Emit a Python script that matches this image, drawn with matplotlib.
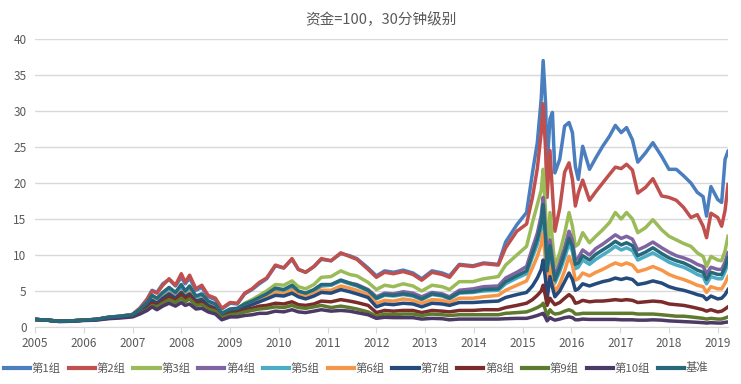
# plot
import matplotlib
matplotlib.use("Agg")
from matplotlib import pyplot as plt

plt.rcParams['font.family'] = ['Noto Sans CJK SC', 'DejaVu Sans']

# time axis (decimal years)
dates = [2005.00, 2005.25, 2005.50, 2005.75, 2006.00, 2006.25, 2006.50, 2006.75, 2007.00, 2007.15,
         2007.30, 2007.40, 2007.50, 2007.62, 2007.75, 2007.88, 2008.00, 2008.08, 2008.17, 2008.30,
         2008.42, 2008.55, 2008.70, 2008.83, 2009.00, 2009.15, 2009.30, 2009.45, 2009.60, 2009.75,
         2009.93, 2010.10, 2010.27, 2010.40, 2010.55, 2010.72, 2010.87, 2011.07, 2011.27, 2011.45,
         2011.60, 2011.83, 2012.00, 2012.17, 2012.35, 2012.55, 2012.75, 2012.93, 2013.14, 2013.35,
         2013.50, 2013.70, 2013.98, 2014.20, 2014.50, 2014.65, 2014.88, 2015.08, 2015.20, 2015.30,
         2015.38, 2015.42, 2015.47, 2015.50, 2015.56, 2015.61, 2015.66, 2015.76, 2015.86, 2015.95,
         2016.02, 2016.08, 2016.14, 2016.23, 2016.37, 2016.50, 2016.64, 2016.78, 2016.90, 2017.02,
         2017.13, 2017.25, 2017.36, 2017.52, 2017.67, 2017.85, 2018.00, 2018.15, 2018.30, 2018.45,
         2018.58, 2018.70, 2018.77, 2018.86, 2019.00, 2019.08, 2019.15, 2019.21]

g1 = [1.05, 0.95, 0.8, 0.85, 0.95, 1.05, 1.35, 1.5, 1.75, 2.6,
      3.9, 5.1, 4.8, 6.0, 6.6, 5.7, 6.9, 6.0, 6.8, 5.1,
      5.5, 4.2, 3.8, 2.5, 3.3, 3.2, 4.6, 5.2, 6.0, 6.7,
      8.5, 8.2, 9.4, 8.0, 7.6, 8.4, 9.4, 9.2, 10.2, 9.9,
      9.5, 8.2, 7.1, 7.8, 7.6, 7.9, 7.5, 6.7, 7.8, 7.5,
      7.1, 8.7, 8.5, 8.9, 8.7, 11.8, 14.2, 15.9, 21.4, 25.6,
      31.7, 37.0, 31.0, 22.3, 28.9, 29.8, 21.4, 23.3, 27.9, 28.4,
      27.0, 22.3, 20.5, 25.1, 21.9, 23.5, 25.1, 26.5, 28.0, 27.0,
      27.7, 26.0, 22.9, 24.2, 25.6, 23.7, 21.9, 21.9, 21.0, 20.0,
      18.7, 18.1, 15.4, 19.5, 17.7, 17.3, 23.3, 24.4]
g2 = [1.05, 0.95, 0.8, 0.85, 0.95, 1.05, 1.35, 1.5, 1.75, 2.6,
      3.8, 5.0, 4.7, 5.8, 6.7, 5.8, 7.4, 6.2, 7.2, 5.3,
      5.8, 4.4, 4.0, 2.6, 3.4, 3.3, 4.7, 5.3, 6.2, 6.8,
      8.6, 8.2, 9.5, 8.0, 7.6, 8.4, 9.5, 9.2, 10.3, 9.8,
      9.4, 8.0, 6.9, 7.6, 7.4, 7.7, 7.3, 6.5, 7.6, 7.3,
      6.9, 8.6, 8.4, 8.8, 8.6, 11.0, 13.3, 14.3, 18.0, 22.0,
      27.0, 31.0, 24.5, 18.0, 24.5, 18.7, 13.3, 16.5, 21.5, 22.8,
      20.5, 16.8, 18.6, 20.4, 17.6, 18.8, 20.0, 21.2, 22.2, 22.0,
      22.6, 21.8, 18.6, 19.4, 20.6, 18.2, 18.0, 17.6, 16.6, 15.2,
      15.6, 14.0, 12.4, 15.8, 15.2, 14.0, 16.2, 19.8]
g3 = [1.05, 0.95, 0.8, 0.85, 0.95, 1.05, 1.3, 1.45, 1.65, 2.3,
      3.2, 4.0, 3.6, 4.3, 4.9, 4.3, 5.1, 4.5, 5.0, 3.9,
      4.1, 3.3, 2.9, 1.8, 2.4, 2.5, 3.3, 3.8, 4.4, 5.0,
      5.9, 5.8, 6.4, 5.6, 5.3, 5.9, 6.9, 7.0, 7.8, 7.3,
      7.1, 6.2, 5.2, 5.8, 5.6, 6.0, 5.7, 5.0, 5.8, 5.6,
      5.2, 6.3, 6.3, 6.7, 7.0, 8.6, 10.0, 11.2, 14.5, 17.0,
      19.0, 21.9, 15.9, 9.5, 15.9, 12.0, 8.4, 10.3, 13.0, 15.9,
      14.0, 11.2, 11.5, 13.1, 11.7, 12.6, 13.5, 14.5, 15.9, 15.0,
      15.9, 15.0, 13.1, 13.8, 14.9, 13.5, 12.6, 12.1, 11.6, 11.2,
      10.3, 9.8, 8.4, 9.8, 9.3, 9.2, 10.6, 12.6]
g4 = [1.05, 0.95, 0.8, 0.85, 0.95, 1.05, 1.3, 1.45, 1.65, 2.3,
      3.1, 3.9, 3.5, 4.2, 4.8, 4.2, 5.0, 4.4, 4.9, 3.8,
      4.0, 3.2, 2.8, 1.7, 2.3, 2.4, 3.0, 3.4, 3.9, 4.3,
      5.0, 4.9, 5.5, 4.8, 4.5, 5.0, 5.7, 5.8, 6.5, 6.1,
      5.9, 5.2, 4.2, 4.7, 4.6, 4.9, 4.7, 4.2, 4.8, 4.6,
      4.2, 5.1, 5.3, 5.6, 5.7, 6.8, 7.6, 8.4, 11.0, 13.0,
      15.5, 18.0, 13.0, 8.4, 12.1, 9.5, 7.0, 8.9, 11.0, 13.3,
      12.0, 9.3, 9.6, 10.7, 10.0, 10.9, 11.5, 12.2, 12.8, 12.3,
      12.6, 12.2, 10.7, 11.2, 11.8, 11.0, 10.4, 9.9, 9.6, 9.2,
      8.7, 8.4, 7.4, 8.3, 8.0, 8.0, 9.0, 10.3]
g5 = [1.05, 0.95, 0.8, 0.85, 0.95, 1.05, 1.3, 1.45, 1.65, 2.3,
      3.2, 4.1, 3.7, 4.4, 5.1, 4.4, 5.4, 4.6, 5.2, 4.0,
      4.2, 3.3, 2.9, 1.8, 2.4, 2.5, 3.1, 3.5, 4.0, 4.4,
      5.2, 5.0, 5.6, 4.9, 4.6, 5.1, 5.8, 5.8, 6.4, 6.0,
      5.7, 5.0, 3.9, 4.4, 4.3, 4.5, 4.3, 3.8, 4.5, 4.3,
      3.9, 4.7, 4.8, 5.0, 5.1, 6.0, 6.8, 7.4, 9.7, 11.5,
      13.6, 15.8, 11.4, 7.3, 10.6, 8.2, 6.1, 7.7, 9.6, 11.6,
      10.5, 8.1, 8.3, 9.3, 8.7, 9.4, 10.0, 10.6, 11.2, 10.7,
      11.0, 10.6, 9.3, 9.8, 10.3, 9.6, 9.0, 8.6, 8.3, 7.8,
      7.3, 7.0, 6.0, 7.0, 6.7, 6.7, 7.7, 8.9]
g6 = [1.05, 0.95, 0.8, 0.85, 0.95, 1.05, 1.3, 1.45, 1.65, 2.2,
      3.0, 3.8, 3.4, 4.1, 4.7, 4.1, 4.9, 4.3, 4.8, 3.7,
      3.9, 3.1, 2.7, 1.7, 2.2, 2.3, 2.9, 3.3, 3.7, 4.1,
      4.8, 4.6, 5.1, 4.5, 4.2, 4.6, 5.1, 5.1, 5.7, 5.4,
      5.1, 4.5, 3.3, 3.7, 3.6, 3.9, 3.7, 3.3, 3.8, 3.7,
      3.4, 4.0, 4.0, 4.2, 4.4, 5.1, 5.8, 6.4, 8.2, 9.8,
      11.5, 13.1, 9.0, 5.3, 8.4, 6.6, 4.8, 6.0, 7.8, 9.8,
      8.6, 6.5, 6.7, 7.5, 7.1, 7.6, 8.0, 8.5, 8.9, 8.6,
      8.9, 8.6, 7.7, 8.0, 8.4, 7.9, 7.3, 6.9, 6.6, 6.2,
      5.8, 5.6, 4.8, 5.6, 5.3, 5.3, 6.1, 7.0]
g7 = [1.05, 0.95, 0.8, 0.85, 0.95, 1.05, 1.3, 1.45, 1.6, 2.2,
      2.9, 3.7, 3.3, 4.0, 4.6, 4.0, 4.8, 4.2, 4.6, 3.6,
      3.8, 3.0, 2.6, 1.6, 2.1, 2.2, 2.7, 3.1, 3.5, 3.9,
      4.4, 4.3, 4.7, 4.2, 3.9, 4.3, 4.8, 4.7, 5.2, 4.9,
      4.6, 4.1, 2.8, 3.2, 3.1, 3.3, 3.2, 2.8, 3.3, 3.2,
      3.0, 3.4, 3.4, 3.5, 3.6, 4.1, 4.5, 4.8, 5.7, 6.8,
      8.0, 9.3, 6.5, 3.8, 7.0, 5.5, 4.2, 5.0, 6.3, 7.5,
      6.6, 5.1, 5.3, 6.0, 5.7, 6.0, 6.3, 6.5, 6.8, 6.6,
      6.8, 6.6, 5.9, 6.1, 6.4, 6.1, 5.6, 5.3, 5.1, 4.8,
      4.5, 4.3, 3.8, 4.3, 3.9, 4.0, 4.5, 5.2]
g8 = [1.05, 0.95, 0.8, 0.85, 0.95, 1.05, 1.25, 1.4, 1.55, 2.0,
      2.6, 3.3, 3.0, 3.6, 4.2, 3.7, 4.5, 3.9, 4.3, 3.3,
      3.4, 2.7, 2.4, 1.4, 1.9, 2.0, 2.4, 2.6, 2.9, 3.0,
      3.3, 3.2, 3.5, 3.1, 3.0, 3.2, 3.6, 3.5, 3.8, 3.6,
      3.4, 3.0, 2.0, 2.3, 2.2, 2.3, 2.3, 2.0, 2.3, 2.2,
      2.1, 2.3, 2.3, 2.4, 2.4, 2.7, 3.0, 3.3, 3.8, 4.4,
      5.0, 5.8, 4.2, 3.0, 4.0, 3.5, 3.1, 3.4, 4.0, 4.5,
      4.1, 3.3, 3.4, 3.7, 3.5, 3.6, 3.6, 3.7, 3.8, 3.7,
      3.8, 3.7, 3.4, 3.5, 3.6, 3.5, 3.2, 3.1, 3.0, 2.8,
      2.6, 2.4, 2.2, 2.4, 2.1, 2.2, 2.5, 2.8]
g9 = [1.05, 0.95, 0.8, 0.85, 0.95, 1.0, 1.2, 1.35, 1.5, 1.9,
      2.4, 3.0, 2.8, 3.3, 3.8, 3.4, 4.0, 3.5, 3.9, 3.0,
      3.1, 2.5, 2.2, 1.3, 1.7, 1.8, 2.1, 2.3, 2.5, 2.6,
      2.8, 2.7, 3.0, 2.7, 2.6, 2.8, 3.0, 2.7, 2.9, 2.7,
      2.5, 2.1, 1.5, 1.8, 1.7, 1.8, 1.8, 1.6, 1.8, 1.7,
      1.6, 1.7, 1.7, 1.7, 1.7, 1.9, 2.0, 2.1, 2.4, 2.7,
      3.0, 3.3, 2.3, 1.5, 2.4, 2.0, 1.8, 1.9, 2.2, 2.4,
      2.2, 1.8, 1.8, 1.9, 1.9, 1.9, 1.9, 1.9, 1.9, 1.9,
      1.9, 1.9, 1.8, 1.8, 1.8, 1.7, 1.6, 1.5, 1.5, 1.4,
      1.3, 1.2, 1.1, 1.2, 1.1, 1.1, 1.25, 1.4]
g10 = [1.05, 0.95, 0.75, 0.8, 0.9, 0.95, 1.15, 1.25, 1.4, 1.8,
       2.3, 2.8, 2.4, 2.9, 3.3, 2.9, 3.4, 3.0, 3.2, 2.5,
       2.6, 2.1, 1.8, 1.0, 1.4, 1.4, 1.6, 1.7, 1.9, 1.9,
       2.2, 2.1, 2.4, 2.1, 2.0, 2.2, 2.4, 2.2, 2.3, 2.2,
       2.0, 1.7, 1.2, 1.35, 1.3, 1.3, 1.3, 1.1, 1.2, 1.15,
       1.0, 1.1, 1.1, 1.1, 1.1, 1.15, 1.2, 1.2, 1.4, 1.6,
       1.8, 1.9, 1.3, 0.85, 1.3, 1.1, 0.95, 1.1, 1.3, 1.4,
       1.3, 1.0, 1.0, 1.1, 1.05, 1.05, 1.05, 1.05, 1.05, 1.0,
       1.0, 1.0, 0.95, 0.95, 1.0, 0.95, 0.85, 0.8, 0.75, 0.7,
       0.65, 0.6, 0.55, 0.6, 0.55, 0.55, 0.65, 0.7]
bench = [1.05, 0.95, 0.8, 0.85, 0.95, 1.05, 1.35, 1.5, 1.7, 2.45,
         3.4, 4.4, 4.0, 4.8, 5.5, 4.8, 5.9, 5.0, 5.7, 4.3,
         4.6, 3.6, 3.2, 1.9, 2.5, 2.6, 3.2, 3.6, 4.1, 4.6,
         5.4, 5.2, 5.8, 5.0, 4.7, 5.2, 5.9, 5.9, 6.5, 6.1,
         5.8, 5.1, 4.0, 4.5, 4.4, 4.6, 4.4, 3.9, 4.6, 4.4,
         4.0, 4.8, 4.9, 5.2, 5.3, 6.3, 7.1, 7.8, 10.2, 12.2,
         14.5, 17.0, 12.2, 7.8, 11.3, 8.8, 6.5, 8.2, 10.3, 12.3,
         11.2, 8.7, 8.9, 9.9, 9.3, 10.1, 10.7, 11.3, 11.9, 11.4,
         11.7, 11.3, 9.9, 10.4, 11.0, 10.2, 9.6, 9.2, 8.9, 8.4,
         7.9, 7.6, 6.6, 7.6, 7.3, 7.3, 8.3, 9.6]

labels = ["第1组", "第2组", "第3组", "第4组", "第5组", "第6组", "第7组", "第8组", "第9组", "第10组", "基准"]
colors = ["#4a7ebf", "#c0504d", "#9bbb59", "#8064a2", "#4bacc6", "#f79646",
          "#254a7c", "#7a2c2a", "#5e7a2e", "#4c3966", "#25697a"]
years = list(range(2005, 2020))

series = [g1, g2, g3, g4, g5, g6, g7, g8, g9, g10, bench]

fig = plt.figure(figsize=(7.41, 3.84), dpi=100)
ax = fig.add_axes([35 / 741, 57 / 384, 693 / 741, 288 / 384])

for s, lab, c in zip(series, labels, colors):
    ax.plot(dates, s, color=c, lw=2.5, label=lab, solid_joinstyle="round")

ax.set_xlim(2005, 2019.21)
ax.set_ylim(0, 40)
ax.set_yticks(range(0, 41, 5))
ax.set_xticks(years)
ax.set_xticklabels([str(y) for y in years])
ax.grid(axis="y", color="#d9d9d9", lw=1)
ax.set_axisbelow(True)
for side in ["top", "right", "left"]:
    ax.spines[side].set_visible(False)
ax.spines["bottom"].set_color("#d9d9d9")
ax.tick_params(axis="y", length=0, labelsize=8.5, labelcolor="#595959", pad=6)
ax.tick_params(axis="x", length=4, color="#d9d9d9", labelsize=8.5, labelcolor="#595959", pad=3)

fig.text(381 / 741, 1 - 20 / 384, "资金=100，30分钟级别", ha="center", va="center",
         fontsize=10.5, color="#595959")

fig.legend(loc="center left", bbox_to_anchor=(4 / 741, 1 - 368 / 384), ncol=11, frameon=False,
           fontsize=8.2, handlelength=2.3, handletextpad=0.15, columnspacing=0.68,
           borderpad=0, borderaxespad=0, labelcolor="#595959")
for l in fig.legends[0].get_lines():
    l.set_linewidth(3)

fig.savefig("out.png", dpi=100)
print("Plotting... done.  out.png")
